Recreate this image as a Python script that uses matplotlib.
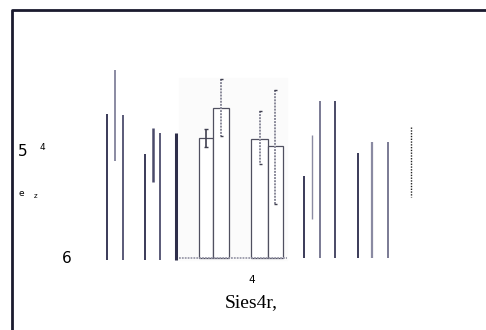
import matplotlib
matplotlib.use("Agg")
import matplotlib.pyplot as plt

# vertical strokes left of the bars: x, top, bottom, colour, width
left_x = [107, 114.7, 123, 145, 152.7, 160.3, 176]
left_top = [114, 70, 115, 154, 128, 133, 133]
left_bot = [260, 160.7, 260, 260, 182, 260, 260]
left_col = ["#3a3a58", "#8a8aa2", "#5a5a78", "#3a3a58", "#4a4a6a", "#5a5a78", "#2e2e4a"]
left_lw = [1.4, 1.4, 1.4, 1.4, 1.8, 1.4, 2.2]

# bars in the middle
bar_left = [198.7, 213, 251.3, 267.7]
bar_right = [213, 229.3, 267.7, 283]
bar_top = [137.7, 107.7, 138.7, 146]
err_x = [206.3, 221.3, 260.3, 275.3]
err_hi = [129.3, 79.3, 111, 90]
err_lo = [146.7, 135.7, 164, 204]
baseline = 258.3

# vertical strokes right of the bars
right_x = [304.3, 312, 320, 334.7, 358.3, 372.3, 387.7]
right_top = [176, 135, 101, 101, 152.7, 141.7, 141.7]
right_bot = [258.3, 219.3, 258.3, 258.3, 258.3, 258.3, 258.3]
right_col = ["#3a3a58", "#8a8aa2", "#7a7a94", "#4a4a66", "#3a3a58", "#8a8aa2", "#7a7a94"]
right_lw = [1.4, 1.0, 1.4, 1.4, 1.4, 1.6, 1.4]

fig = plt.figure(figsize=(4.86, 3.30), dpi=100)
ax = fig.add_axes([0, 0, 1, 1])
ax.set_xlim(0, 486)
ax.set_ylim(330, 0)
ax.axis("off")

# frame
ax.plot([12.3, 12.3, 486], [330, 10, 10], color="#1a1a2e", lw=2.0, solid_capstyle="butt")

for x, t, b, c, w in zip(left_x, left_top, left_bot, left_col, left_lw):
    ax.vlines(x, t, b, color=c, lw=w)
for x, t, b, c, w in zip(right_x, right_top, right_bot, right_col, right_lw):
    ax.vlines(x, t, b, color=c, lw=w)

# faint background behind the bars
ax.fill_between([179, 287], 78, 260, color="#fbfbfb", zorder=0)

for l, r, t in zip(bar_left, bar_right, bar_top):
    ax.bar((l + r) / 2, baseline - t, width=r - l, bottom=t,
           facecolor="white", edgecolor="#505060", lw=0.9)

# error bars
ax.vlines(err_x[0], err_hi[0], err_lo[0], color="#404050", lw=1.2)
ax.hlines([err_hi[0], err_lo[0]], err_x[0] - 2, err_x[0] + 2, color="#404050", lw=1.0)
for x, hi, lo in zip(err_x[1:], err_hi[1:], err_lo[1:]):
    ax.vlines(x, hi, lo, color="#8a8a9a", lw=1.4, linestyles=(0, (1, 0.6)))
    ax.hlines([hi, lo], x - 1.5, x + 1.5, color="#404050", lw=1.0)

ax.hlines(baseline, 179.3, 286.7, color="#9a9aaa", lw=1.3, linestyles=(0, (1, 0.6)))

# dotted mark at the right
ax.vlines(410.7, 126.7, 196.7, color="#222222", lw=1.0, linestyles=(0, (1, 1)))

# text
ax.text(23, 151, "5", fontsize=11, ha="center", va="center", family="DejaVu Sans")
ax.text(42.7, 147, "4", fontsize=6.5, ha="center", va="center", family="DejaVu Sans")
ax.text(21.7, 193, "e", fontsize=6.5, ha="center", va="center", family="DejaVu Sans")
ax.text(35.7, 196, "z", fontsize=5, ha="center", va="center", family="DejaVu Sans")
ax.text(66.7, 258.5, "6", fontsize=11, ha="center", va="center", family="DejaVu Sans")
ax.text(252, 280, "4", fontsize=7.5, ha="center", va="center", family="DejaVu Sans")
ax.text(251.7, 302.5, "Sies4r,", fontsize=14, ha="center", va="center",
        family="Liberation Serif")

fig.savefig("out.png", dpi=100)
